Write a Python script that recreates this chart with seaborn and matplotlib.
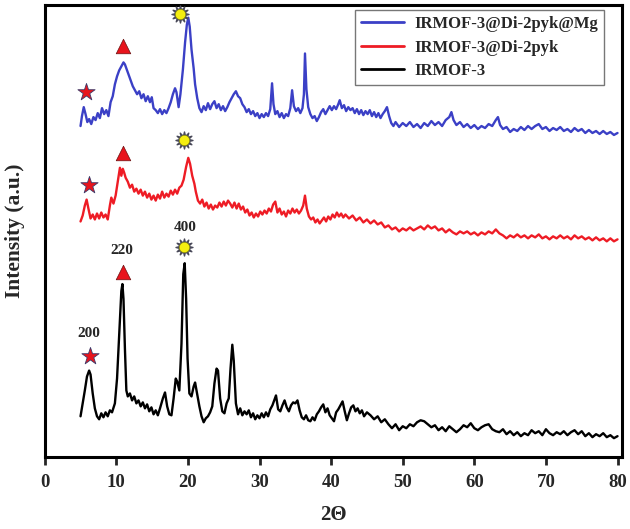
import numpy as np
import pandas as pd
import matplotlib
matplotlib.use("Agg")
import matplotlib.pyplot as plt
import seaborn as sns

# XRD patterns, intensities (a.u.), stacked with offsets
black_x = [5.0, 5.3, 5.6, 5.9, 6.2, 6.4, 6.7, 7.0, 7.3, 7.6, 7.9, 8.2, 8.5, 8.8, 9.1, 9.4, 9.8,
           10.1, 10.4, 10.7, 10.85, 11.0, 11.2, 11.4, 11.6, 11.9, 12.2, 12.5, 12.8, 13.1, 13.4,
           13.7, 14.0, 14.3, 14.6, 14.9, 15.2, 15.5, 15.8, 16.1, 16.5, 16.8, 17.1, 17.4, 17.7,
           18.0, 18.3, 18.5, 18.8, 19.1, 19.35, 19.55, 19.75, 19.95, 20.2, 20.5, 20.8, 21.0,
           21.3, 21.6, 21.9, 22.2, 22.5, 22.8, 23.1, 23.4, 23.7, 24.0, 24.2, 24.5, 24.8, 25.1,
           25.4, 25.7, 25.95, 26.2, 26.4, 26.7, 27.0, 27.3, 27.6, 27.9, 28.2, 28.5, 28.8, 29.1,
           29.4, 29.7, 30.0, 30.3, 30.6, 30.9, 31.2, 31.5, 31.8, 32.1, 32.3, 32.6, 32.9, 33.2,
           33.5, 33.8, 34.1, 34.4, 34.7, 35.0, 35.3, 35.6, 35.9, 36.2, 36.5, 36.8, 37.1, 37.4,
           37.7, 38.0, 38.3, 38.6, 38.9, 39.2, 39.5, 39.8, 40.1, 40.4, 40.7, 41.0, 41.3, 41.6,
           41.9, 42.2, 42.5, 42.8, 43.1, 43.4, 43.7, 44.0, 44.3, 44.6, 45.0, 45.5, 46.0, 46.5,
           47.0, 47.5, 48.0, 48.5, 49.0, 49.5, 50.0, 50.5, 51.0, 51.5, 52.0, 52.5, 53.0, 53.5,
           54.0, 54.5, 55.0, 55.5, 56.0, 56.5, 57.0, 57.5, 58.0, 58.5, 59.0, 59.5, 60.0, 60.5,
           61.0, 61.5, 62.0, 62.5, 63.0, 63.5, 64.0, 64.5, 65.0, 65.5, 66.0, 66.5, 67.0, 67.5,
           68.0, 68.5, 69.0, 69.5, 70.0, 70.5, 71.0, 71.5, 72.0, 72.5, 73.0, 73.5, 74.0, 74.5,
           75.0, 75.5, 76.0, 76.5, 77.0, 77.5, 78.0, 78.5, 79.0, 79.5, 80.0]
black_y = [41, 54, 67, 81, 87, 83, 64, 49, 41, 38, 44, 40, 45, 41, 47, 45, 54,
           79, 124, 167, 174, 159, 109, 67, 61, 64, 57, 61, 54, 57, 51,
           55, 49, 53, 46, 50, 43, 47, 42, 49, 59, 65, 51, 43, 42,
           59, 79, 76, 67, 114, 184, 195, 159, 99, 64, 61, 71, 75,
           63, 51, 41, 35, 39, 41, 45, 51, 74, 89, 87, 59, 46, 44,
           54, 59, 89, 113, 97, 54, 43, 49, 42, 46, 43, 47, 40, 44,
           38, 42, 39, 44, 40, 45, 41, 48, 52, 58, 62, 48, 46, 52,
           57, 50, 46, 52, 55, 54, 57, 47, 40, 38, 42, 37, 36, 40,
           37, 43, 46, 50, 53, 45, 49, 42, 39, 36, 45, 48, 52, 56,
           46, 37, 44, 50, 52, 46, 49, 44, 47, 41, 45, 42, 38, 41,
           35, 38, 33, 29, 33, 27, 31, 29, 33, 31, 35, 37, 36, 33,
           30, 32, 27, 30, 26, 31, 28, 25, 28, 32, 30, 34, 29, 27,
           30, 32, 33, 28, 26, 25, 28, 23, 26, 22, 25, 21, 24, 22,
           27, 24, 26, 22, 28, 24, 22, 25, 23, 26, 22, 25, 27, 23,
           26, 21, 24, 20, 23, 21, 24, 20, 22, 19, 21]

red_x = [5.0, 5.3, 5.6, 5.85, 6.1, 6.4, 6.7, 7.0, 7.3, 7.6, 7.9, 8.2, 8.5, 8.8, 9.1, 9.3, 9.6,
         9.9, 10.2, 10.5, 10.7, 10.9, 11.1, 11.3, 11.6, 11.9, 12.2, 12.5, 12.8, 13.1, 13.4,
         13.7, 14.0, 14.3, 14.6, 14.9, 15.2, 15.5, 15.8, 16.1, 16.4, 16.7, 17.0, 17.3, 17.6,
         17.9, 18.2, 18.5, 18.8, 19.1, 19.4, 19.75, 20.05, 20.3, 20.6, 20.9, 21.1, 21.4, 21.7,
         22.0, 22.3, 22.6, 22.9, 23.2, 23.5, 23.8, 24.1, 24.4, 24.7, 25.0, 25.3, 25.6, 25.9,
         26.2, 26.5, 26.8, 27.1, 27.4, 27.7, 28.0, 28.3, 28.6, 28.9, 29.2, 29.5, 29.8, 30.1,
         30.4, 30.7, 31.0, 31.3, 31.6, 31.9, 32.2, 32.5, 32.8, 33.1, 33.4, 33.7, 34.0, 34.3,
         34.6, 34.9, 35.2, 35.5, 35.8, 36.1, 36.35, 36.6, 36.9, 37.2, 37.5, 37.8, 38.1, 38.4,
         38.7, 39.0, 39.3, 39.6, 39.9, 40.2, 40.5, 40.8, 41.1, 41.4, 41.7, 42.0, 42.5, 43.0,
         43.5, 44.0, 44.5, 45.0, 45.5, 46.0, 46.5, 47.0, 47.5, 48.0, 48.5, 49.0, 49.5, 50.0,
         50.5, 51.0, 51.5, 52.0, 52.5, 53.0, 53.5, 54.0, 54.5, 55.0, 55.5, 56.0, 56.5, 57.0,
         57.5, 58.0, 58.5, 59.0, 59.5, 60.0, 60.5, 61.0, 61.5, 62.0, 62.5, 63.0, 63.5, 64.0,
         64.5, 65.0, 65.5, 66.0, 66.5, 67.0, 67.5, 68.0, 68.5, 69.0, 69.5, 70.0, 70.5, 71.0,
         71.5, 72.0, 72.5, 73.0, 73.5, 74.0, 74.5, 75.0, 75.5, 76.0, 76.5, 77.0, 77.5, 78.0,
         78.5, 79.0, 79.5, 80.0]
red_y = [42, 48, 58, 64, 55, 45, 49, 44, 50, 45, 51, 46, 49, 44, 58, 66, 60,
         68, 82, 96, 88, 95, 91, 86, 82, 76, 79, 72, 75, 70, 74,
         68, 72, 66, 70, 64, 68, 63, 69, 65, 72, 66, 70, 67, 73,
         69, 74, 70, 76, 78, 84, 97, 106, 100, 88, 80, 72, 63, 60,
         64, 57, 61, 55, 59, 54, 58, 56, 61, 57, 62, 58, 63, 60,
         56, 61, 55, 60, 54, 57, 51, 54, 48, 51, 46, 50, 47, 52,
         49, 53, 50, 55, 52, 59, 62, 51, 55, 49, 52, 47, 53, 50,
         55, 51, 54, 50, 53, 58, 68, 55, 47, 44, 46, 41, 44, 40,
         43, 46, 42, 47, 44, 49, 46, 51, 47, 50, 46, 49, 45, 48,
         43, 46, 41, 44, 40, 43, 39, 41, 36, 38, 34, 36, 32, 35,
         33, 36, 33, 35, 37, 34, 38, 35, 37, 33, 35, 31, 34, 31,
         29, 32, 30, 32, 29, 31, 28, 31, 29, 32, 30, 34, 30, 28,
         25, 28, 26, 29, 26, 28, 25, 28, 26, 29, 25, 27, 24, 27,
         25, 28, 25, 27, 24, 28, 25, 27, 24, 26, 23, 26, 23, 25,
         22, 25, 22, 24]

blue_x = [5.0, 5.2, 5.45, 5.7, 5.95, 6.2, 6.5, 6.8, 7.1, 7.4, 7.7, 8.0, 8.3, 8.6, 8.9, 9.2,
          9.5, 9.8, 10.1, 10.4, 10.7, 11.0, 11.2, 11.4, 11.7, 12.0, 12.3, 12.6, 12.9, 13.2,
          13.5, 13.8, 14.1, 14.4, 14.7, 14.95, 15.2, 15.5, 15.8, 16.1, 16.4, 16.7, 17.0, 17.3,
          17.6, 17.9, 18.2, 18.4, 18.7, 18.95, 19.3, 19.6, 19.85, 20.05, 20.25, 20.5, 20.8,
          21.0, 21.3, 21.6, 21.9, 22.2, 22.5, 22.8, 23.1, 23.4, 23.7, 24.0, 24.3, 24.6, 24.9,
          25.2, 25.5, 25.8, 26.1, 26.4, 26.7, 27.0, 27.3, 27.6, 27.9, 28.2, 28.5, 28.8, 29.1,
          29.4, 29.7, 30.0, 30.3, 30.6, 30.9, 31.2, 31.5, 31.75, 31.95, 32.2, 32.5, 32.8, 33.1,
          33.4, 33.7, 34.0, 34.3, 34.55, 34.8, 35.1, 35.4, 35.7, 36.0, 36.2, 36.35, 36.55,
          36.8, 37.1, 37.4, 37.7, 38.0, 38.3, 38.6, 38.9, 39.2, 39.5, 39.8, 40.1, 40.4, 40.7,
          41.0, 41.2, 41.5, 41.8, 42.1, 42.4, 42.7, 43.0, 43.3, 43.6, 43.9, 44.2, 44.5, 44.8,
          45.1, 45.4, 45.7, 46.0, 46.3, 46.6, 46.9, 47.2, 47.5, 47.8, 48.1, 48.4, 48.7, 49.0,
          49.5, 50.0, 50.5, 51.0, 51.5, 52.0, 52.5, 53.0, 53.5, 54.0, 54.5, 55.0, 55.5, 56.0,
          56.5, 56.8, 57.1, 57.5, 58.0, 58.5, 59.0, 59.5, 60.0, 60.5, 61.0, 61.5, 62.0, 62.5,
          63.0, 63.3, 63.6, 64.0, 64.5, 65.0, 65.5, 66.0, 66.5, 67.0, 67.5, 68.0, 68.5, 69.0,
          69.5, 70.0, 70.5, 71.0, 71.5, 72.0, 72.5, 73.0, 73.5, 74.0, 74.5, 75.0, 75.5, 76.0,
          76.5, 77.0, 77.5, 78.0, 78.5, 79.0, 79.5, 80.0]
blue_y = [38, 48, 57, 50, 42, 45, 40, 47, 44, 51, 46, 56, 50, 54, 48, 62,
          68, 80, 88, 94, 98, 102, 100, 96, 90, 84, 78, 74, 70, 73,
          66, 70, 63, 68, 62, 67, 56, 54, 51, 55, 50, 54, 51, 56,
          62, 70, 76, 72, 57, 70, 95, 122, 140, 147, 138, 115, 96,
          80, 66, 56, 52, 58, 54, 61, 55, 60, 63, 56, 60, 54, 58,
          53, 57, 62, 66, 70, 73, 68, 66, 60, 57, 52, 55, 50, 53,
          48, 51, 46, 50, 47, 51, 48, 55, 81, 60, 50, 53, 47, 51,
          46, 50, 48, 56, 74, 58, 53, 56, 51, 56, 70, 111, 75,
          57, 50, 46, 48, 43, 47, 52, 55, 50, 54, 58, 54, 58, 55,
          60, 64, 56, 59, 53, 57, 54, 56, 51, 55, 50, 54, 49, 53,
          50, 54, 48, 52, 47, 51, 46, 50, 53, 57, 48, 41, 38, 42,
          37, 41, 38, 42, 37, 40, 36, 41, 38, 43, 39, 42, 38, 44,
          47, 52, 44, 39, 42, 37, 40, 36, 39, 35, 38, 36, 40, 38,
          44, 47, 39, 35, 37, 32, 35, 33, 37, 34, 38, 35, 38, 40,
          35, 37, 33, 36, 34, 37, 33, 35, 32, 36, 33, 35, 31, 34,
          31, 33, 30, 33, 30, 32, 29, 31]

sample_names = ["IRMOF-3@Di-2pyk@Mg", "IRMOF-3@Di-2pyk", "IRMOF-3"]
sample_offsets = [295, 195, 0]
sample_colors = ["#3b40c6", "#ee1c25", "#000000"]

# reflection markers: (200) star, (220) triangle, (400) sun
star_pos = [(5.7, 72), (6.2, 79), (6.3, 102)]
tri_pos = [(10.9, 119), (10.9, 111), (10.9, 186)]
sun_pos = [(18.9, 151), (19.4, 124), (19.4, 211)]
hkl_labels = ["200", "220", "400"]
hkl_pos = [(6.2, 124), (10.8, 208), (19.6, 231)]

frames = []
for name, off, xs, ys in zip(sample_names, sample_offsets,
                             [blue_x, red_x, black_x], [blue_y, red_y, black_y]):
    frames.append(pd.DataFrame({"2theta": xs, "intensity": np.array(ys) + off, "sample": name}))
df = pd.concat(frames, ignore_index=True)

sns.set_theme(style="white")
plt.rcParams["font.family"] = ["Liberation Serif", "DejaVu Serif"]
plt.rcParams["font.weight"] = "bold"

fig = plt.figure(figsize=(6.3, 5.29), dpi=100)
ax = fig.add_axes([0.071, 0.136, 0.916, 0.855])

sns.lineplot(data=df, x="2theta", y="intensity", hue="sample", hue_order=sample_names,
             palette=sample_colors, sort=False, estimator=None, linewidth=1.7, ax=ax)

# peak markers on each pattern
for i, off in enumerate(sample_offsets):
    sx, sy = star_pos[i]
    ax.scatter(sx, sy + off, marker="*", s=170, color="#e8141c", edgecolor="#3a3a6a",
               linewidth=0.6, zorder=5)
    tx, ty = tri_pos[i]
    ax.scatter(tx, ty + off, marker="^", s=110, color="#e8141c", edgecolor="#6a1010",
               linewidth=0.5, zorder=5)
    ux, uy = sun_pos[i]
    ax.scatter(ux, uy + off, marker=(12, 1, 0), s=150, color="#4a4a5a", zorder=5)
    ax.scatter(ux, uy + off, marker="o", s=55, color="#f5ee10", edgecolor="#888800",
               linewidth=0.4, zorder=6)

for lab, (lx, ly) in zip(hkl_labels, hkl_pos):
    ax.text(lx, ly, lab, ha="center", va="center", fontsize=11, fontweight="bold")

ax.set_xlim(0, 80.6)
ax.set_ylim(0, 455)
ax.set_xticks(range(0, 81, 10))
ax.set_yticks([])
ax.tick_params(axis="x", direction="out", length=6, width=2, labelsize=13.5, bottom=True, pad=6)
for lab in ax.get_xticklabels():
    lab.set_fontweight("bold")
for sp in ax.spines.values():
    sp.set_linewidth(2.2)
    sp.set_color("black")

ax.set_xlabel("2Θ", fontsize=15, fontweight="bold", labelpad=10)
ax.set_ylabel("Intensity (a.u.)", fontsize=15.5, fontweight="bold", labelpad=14)

leg = ax.legend(loc="upper right", bbox_to_anchor=(0.975, 0.995), fontsize=12,
                frameon=True, fancybox=False, edgecolor="#555555", handlelength=2.6,
                borderpad=0.35, labelspacing=0.45, handletextpad=0.6,
                borderaxespad=0.2, title=None)
leg.get_frame().set_linewidth(1.0)
for line in leg.get_lines():
    line.set_linewidth(2.0)

fig.savefig("out.png", dpi=100)
